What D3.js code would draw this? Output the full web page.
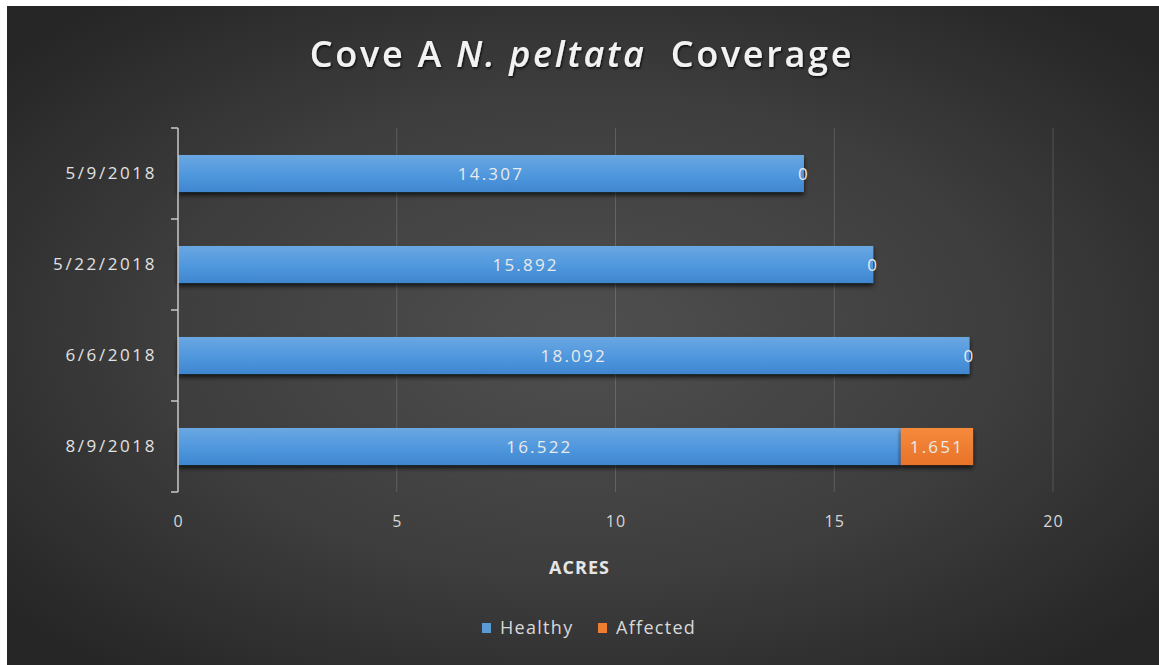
<!DOCTYPE html>
<html>
<head>
<meta charset="utf-8">
<script src="https://cdn.jsdelivr.net/npm/d3@7"></script>
<style>
  html, body { margin: 0; padding: 0; background: #ffffff; }
  svg { display: block; }
  text { font-family: "Open Sans", "DejaVu Sans", sans-serif; }
</style>
</head>
<body>
<svg id="chart" width="1159" height="665"></svg>
<script>
// Survey dates (top to bottom) and acreage per condition
const dates = ["5/9/2018", "5/22/2018", "6/6/2018", "8/9/2018"];
const healthy = [14.307, 15.892, 18.092, 16.522];
const affected = [0, 0, 0, 1.651];
const seriesNames = ["Healthy", "Affected"];
const xTicks = [0, 5, 10, 15, 20];

const W = 1159, H = 665;
const svg = d3.select("#chart");
const defs = svg.append("defs");

// Dark radial backdrop
const bg = defs.append("radialGradient").attr("id", "bg")
  .attr("cx", "50%").attr("cy", "50%").attr("r", "65%");
bg.append("stop").attr("offset", "0%").attr("stop-color", "#4f4f4f");
bg.append("stop").attr("offset", "55%").attr("stop-color", "#3e3e3e");
bg.append("stop").attr("offset", "100%").attr("stop-color", "#262626");

const blueGrad = defs.append("linearGradient").attr("id", "blue")
  .attr("x1", 0).attr("y1", 0).attr("x2", 0).attr("y2", 1);
blueGrad.append("stop").attr("offset", "0%").attr("stop-color", "#6aa7e2");
blueGrad.append("stop").attr("offset", "55%").attr("stop-color", "#4f97dd");
blueGrad.append("stop").attr("offset", "100%").attr("stop-color", "#3f86cf");

const orangeGrad = defs.append("linearGradient").attr("id", "orange")
  .attr("x1", 0).attr("y1", 0).attr("x2", 0).attr("y2", 1);
orangeGrad.append("stop").attr("offset", "0%").attr("stop-color", "#f58a3c");
orangeGrad.append("stop").attr("offset", "100%").attr("stop-color", "#e8732a");

const shadow = defs.append("filter").attr("id", "shadow")
  .attr("x", "-5%").attr("y", "-30%").attr("width", "110%").attr("height", "180%");
shadow.append("feDropShadow").attr("dx", 0).attr("dy", 3).attr("stdDeviation", 2.5)
  .attr("flood-color", "#000").attr("flood-opacity", 0.75);

const txtShadow = defs.append("filter").attr("id", "tshadow")
  .attr("x", "-10%").attr("y", "-30%").attr("width", "120%").attr("height", "160%");
txtShadow.append("feDropShadow").attr("dx", 1).attr("dy", 1.5).attr("stdDeviation", 1)
  .attr("flood-color", "#000").attr("flood-opacity", 0.8);

svg.append("rect").attr("x", 7).attr("y", 6).attr("width", W - 7).attr("height", H - 6)
  .attr("fill", "url(#bg)");

// Plot area
const plotLeft = 178, plotRight = 1053, plotTop = 128, plotBottom = 492;
const x = d3.scaleLinear().domain([0, 20]).range([plotLeft, plotRight]);
const y = d3.scaleBand().domain(dates).range([plotTop, plotBottom])
  .paddingInner(0.593).paddingOuter(0.2965);

// Vertical gridlines
svg.append("g").selectAll("line").data(xTicks.filter(t => t > 0)).join("line")
  .attr("x1", d => x(d)).attr("x2", d => x(d))
  .attr("y1", plotTop).attr("y2", plotBottom)
  .attr("stroke", "#ffffff").attr("stroke-opacity", 0.16).attr("stroke-width", 1);

// X axis labels (no line)
const xAxis = svg.append("g").attr("transform", `translate(0,${plotBottom})`)
  .call(d3.axisBottom(x).tickValues(xTicks).tickSize(0).tickPadding(24));
xAxis.select(".domain").remove();
xAxis.selectAll("text").attr("fill", "#d6d6d6").attr("font-size", 16)
  .style("letter-spacing", "1px");

svg.append("text").attr("x", (plotLeft + plotRight) / 2 - 36).attr("y", 574)
  .attr("text-anchor", "middle").attr("fill", "#e6e6e6")
  .attr("font-size", 18).attr("font-weight", 700)
  .style("letter-spacing", "1px")
  .text("ACRES");

// Stacked bars
const rows = dates.map((d, i) => ({ date: d, healthy: healthy[i], affected: affected[i] }));
const stack = d3.stack().keys(["healthy", "affected"])(rows);
const fills = { healthy: "url(#blue)", affected: "url(#orange)" };

const barG = svg.append("g");
stack.forEach(layer => {
  barG.append("g").selectAll("rect").data(layer).join("rect")
    .attr("x", d => x(d[0]))
    .attr("y", d => y(d.data.date))
    .attr("width", d => x(d[1]) - x(d[0]))
    .attr("height", y.bandwidth())
    .attr("fill", fills[layer.key])
    .attr("filter", "url(#shadow)");
});

// Value labels centred on each segment
stack.forEach(layer => {
  svg.append("g").selectAll("text").data(layer).join("text")
    .attr("x", d => (x(d[0]) + x(d[1])) / 2)
    .attr("y", d => y(d.data.date) + y.bandwidth() / 2)
    .attr("dy", "0.36em")
    .attr("text-anchor", "middle")
    .attr("fill", "#eaeaea")
    .attr("font-size", 17)
    .style("letter-spacing", "2.2px")
    .text(d => d.data[layer.key]);
});

// Category axis
const yAxis = svg.append("g").attr("transform", `translate(${plotLeft},0)`)
  .call(d3.axisLeft(y).tickSize(0).tickPadding(21));
yAxis.select(".domain").attr("stroke", "#c8c8c8").attr("stroke-width", 1.5)
  .attr("d", `M0,${plotTop}V${plotBottom}`);
yAxis.selectAll("text").attr("fill", "#e2e2e2").attr("font-size", 17)
  .style("letter-spacing", "2.6px");

// Tick marks on the category boundaries
const step = y.step();
const bounds = dates.map(d => y(d) - step * y.paddingInner() / 2)
  .concat([y(dates[dates.length - 1]) + y.bandwidth() + step * y.paddingInner() / 2]);
svg.append("g").selectAll("line").data(bounds).join("line")
  .attr("x1", plotLeft - 7).attr("x2", plotLeft)
  .attr("y1", d => d).attr("y2", d => d)
  .attr("stroke", "#c8c8c8").attr("stroke-width", 1.5);

// Title
const title = svg.append("text").attr("x", 582).attr("y", 67)
  .attr("text-anchor", "middle").attr("fill", "#f2f2f2")
  .attr("font-size", 36).attr("font-weight", 600)
  .attr("filter", "url(#tshadow)")
  .style("letter-spacing", "2.7px")
  .style("white-space", "pre");
title.append("tspan").text("Cove A ");
title.append("tspan").attr("font-style", "italic").text("N. peltata");
title.append("tspan").text("  Coverage");

// Legend
const legendItems = [
  { name: seriesNames[0], color: "#5b9bd5", x: 482 },
  { name: seriesNames[1], color: "#ed7d31", x: 598 }
];
const lg = svg.append("g").selectAll("g").data(legendItems).join("g")
  .attr("transform", d => `translate(${d.x},628)`);
lg.append("rect").attr("x", 0).attr("y", -5).attr("width", 9).attr("height", 10)
  .attr("fill", d => d.color);
lg.append("text").attr("x", 18).attr("dy", "0.36em")
  .attr("fill", "#d9d9d9").attr("font-size", 18)
  .style("letter-spacing", "1.3px")
  .text(d => d.name);
</script>
</body>
</html>
